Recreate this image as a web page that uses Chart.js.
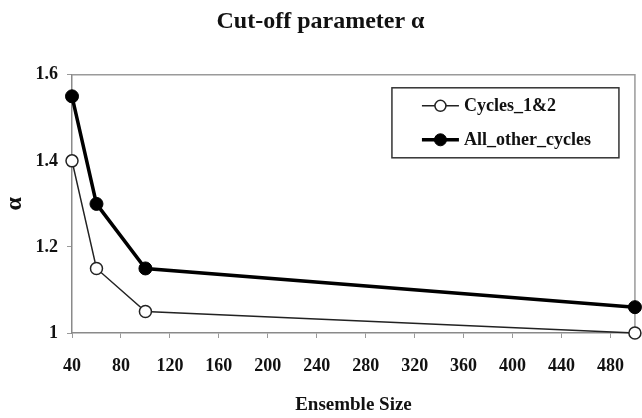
<!DOCTYPE html>
<html>
<head>
<meta charset="utf-8">
<script src="https://cdn.jsdelivr.net/npm/chart.js@4/dist/chart.umd.min.js"></script>
<style>
html,body{margin:0;padding:0;background:#fff;}
#wrap{width:642px;height:418px;position:relative;}
</style>
</head>
<body>
<div id="wrap"><canvas id="c" width="642" height="418"></canvas></div>
<script>
const ensembleSizes = [40, 60, 100, 500];
const cycles12 = [1.4, 1.15, 1.05, 1.0];
const allOtherCycles = [1.55, 1.3, 1.15, 1.06];
const xTickValues = [40, 80, 120, 160, 200, 240, 280, 320, 360, 400, 440, 480];
const yTickValues = [1, 1.2, 1.4, 1.6];
const seriesNames = ['Cycles_1&2', 'All_other_cycles'];

const serif = '"Liberation Serif", "DejaVu Serif", serif';

const boxLegend = {
  id: 'boxLegend',
  afterDraw(chart) {
    const ctx = chart.ctx;
    const ca = chart.chartArea;
    const x0 = ca.right - 243, y0 = ca.top + 13, w = 227, h = 70;
    ctx.save();
    ctx.strokeStyle = '#333';
    ctx.lineWidth = 1.5;
    ctx.strokeRect(x0, y0, w, h);
    chart.data.datasets.forEach((ds, i) => {
      const cy = y0 + 18 + i * 34;
      const lx1 = x0 + 30, lx2 = x0 + 67, mx = (lx1 + lx2) / 2;
      const r = ds.pointRadius - 0.5;
      ctx.strokeStyle = ds.borderColor;
      ctx.lineWidth = ds.borderWidth;
      ctx.beginPath(); ctx.moveTo(lx1, cy); ctx.lineTo(lx2, cy); ctx.stroke();
      ctx.beginPath(); ctx.arc(mx, cy, r, 0, Math.PI * 2);
      ctx.fillStyle = ds.pointBackgroundColor; ctx.fill();
      ctx.lineWidth = ds.pointBorderWidth; ctx.strokeStyle = ds.pointBorderColor; ctx.stroke();
      ctx.fillStyle = '#111';
      ctx.font = 'bold 18px ' + serif;
      ctx.textBaseline = 'middle';
      ctx.textAlign = 'left';
      ctx.fillText(ds.label, x0 + 72, cy + 1);
    });
    ctx.restore();
  }
};

const frame = {
  id: 'frame',
  beforeDatasetsDraw(chart) {
    const ctx = chart.ctx, ca = chart.chartArea;
    ctx.save();
    ctx.strokeStyle = '#9a9a9a';
    ctx.lineWidth = 1.5;
    ctx.beginPath();
    ctx.moveTo(ca.left, ca.top); ctx.lineTo(ca.right, ca.top); ctx.lineTo(ca.right, ca.bottom);
    ctx.stroke();
    ctx.restore();
  }
};

new Chart(document.getElementById('c'), {
  type: 'line',
  data: {
    datasets: [
      {
        label: seriesNames[0],
        data: ensembleSizes.map((x, i) => ({x: x, y: cycles12[i]})),
        borderColor: '#222', borderWidth: 1.5,
        pointRadius: 6, pointBorderWidth: 1.5,
        pointBackgroundColor: '#fff', pointBorderColor: '#222',
        tension: 0, clip: false
      },
      {
        label: seriesNames[1],
        data: ensembleSizes.map((x, i) => ({x: x, y: allOtherCycles[i]})),
        borderColor: '#000', borderWidth: 3.5,
        pointRadius: 6.5, pointBorderWidth: 1,
        pointBackgroundColor: '#000', pointBorderColor: '#000',
        tension: 0, clip: false
      }
    ]
  },
  options: {
    responsive: false,
    animation: false,
    layout: {autoPadding: false, padding: {left: 0, right: 1, top: 0, bottom: 0}},
    plugins: {
      legend: {display: false},
      tooltip: {enabled: false},
      title: {
        display: true,
        text: 'Cut-off parameter α',
        color: '#111',
        font: {family: serif, size: 24, weight: 'bold'},
        padding: {top: 7, bottom: 39}
      }
    },
    scales: {
      x: {
        type: 'linear',
        min: 40, max: 500,
        afterBuildTicks(s) { s.ticks = xTickValues.map(v => ({value: v})); },
        afterFit(s) { s.height = 85; },
        grid: {display: true, drawOnChartArea: false, drawTicks: true, tickLength: 5, color: '#9a9a9a', lineWidth: 1},
        border: {display: true, color: '#8a8a8a', width: 1.5},
        ticks: {color: '#111', font: {family: serif, size: 18, weight: 'bold'}, padding: 18, maxRotation: 0, autoSkip: false},
        title: {display: true, text: 'Ensemble Size', color: '#111', font: {family: serif, size: 19, weight: 'bold'}, padding: {top: 0, bottom: 2}}
      },
      y: {
        type: 'linear',
        min: 1, max: 1.6,
        afterBuildTicks(s) { s.ticks = yTickValues.map(v => ({value: v})); },
        afterFit(s) { s.width = 72; },
        grid: {display: true, drawOnChartArea: false, drawTicks: true, tickLength: 5, color: '#9a9a9a', lineWidth: 1},
        border: {display: true, color: '#8a8a8a', width: 1.5},
        ticks: {color: '#111', font: {family: serif, size: 18, weight: 'bold'}, padding: 9,
                callback: v => String(v)},
        title: {display: true, text: 'α', color: '#111', font: {family: serif, size: 24, weight: 'bold'}, padding: {top: 0, bottom: 4}}
      }
    }
  },
  plugins: [frame, boxLegend]
});
</script>
</body>
</html>
